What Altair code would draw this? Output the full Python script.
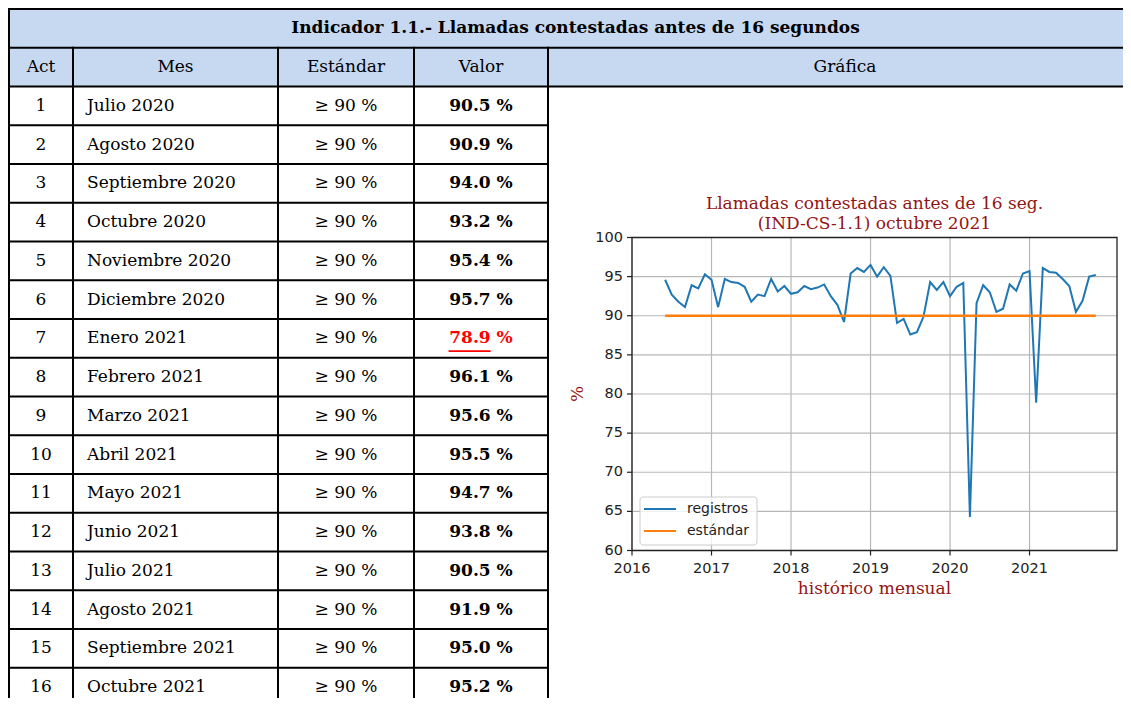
import altair as alt
import pandas as pd

# ------------------------------------------------------------------ data
TABLE_TITLE = "Indicador 1.1.- Llamadas contestadas antes de 16 segundos"
HEADERS = ["Act", "Mes", "Estándar", "Valor", "Gráfica"]
ACT = list(range(1, 17))
MESES = ["Julio 2020", "Agosto 2020", "Septiembre 2020", "Octubre 2020",
         "Noviembre 2020", "Diciembre 2020", "Enero 2021", "Febrero 2021",
         "Marzo 2021", "Abril 2021", "Mayo 2021", "Junio 2021",
         "Julio 2021", "Agosto 2021", "Septiembre 2021", "Octubre 2021"]
ESTANDAR = 90
VALORES = [90.5, 90.9, 94.0, 93.2, 95.4, 95.7, 78.9, 96.1,
           95.6, 95.5, 94.7, 93.8, 90.5, 91.9, 95.0, 95.2]

# monthly history shown in the plot, May 2016 - Jun 2020 (then VALORES follow)
HIST_START = (2016, 5)
HIST = [94.6, 92.7, 91.8, 91.1, 93.9, 93.5, 95.3, 94.6,
        91.1, 94.7, 94.3, 94.2, 93.7, 91.8, 92.7, 92.5, 94.7, 93.1, 93.8, 92.8,
        93.0, 93.8, 93.4, 93.6, 94.0, 92.5, 91.4, 89.2, 95.4, 96.1, 95.6, 96.5,
        95.0, 96.2, 95.1, 89.1, 89.6, 87.6, 87.9, 89.9, 94.3, 93.3, 94.3, 92.5,
        93.7, 94.2, 64.3, 91.6, 93.9, 93.0]

CHART_TITLE = ["Llamadas contestadas antes de 16 seg.", "(IND-CS-1.1) octubre 2021"]
X_TITLE = "histórico mensual"
Y_TITLE = "%"
SERIES = ["registros", "estándar"]
SERIES_COLORS = ["#1f77b4", "#ff7f0e"]
X_TICKS = [2016, 2017, 2018, 2019, 2020, 2021]
Y_TICKS = [60, 65, 70, 75, 80, 85, 90, 95, 100]
X_DOMAIN = [2016, 2022.1]
Y_DOMAIN = [60, 100]

# ------------------------------------------------------------------ layout / style
W, H = 1115, 690
COL_EDGES = [1, 65, 270, 406, 540, 1134]
ROW_TOP, ROW_H = 1, 38.75
PLOT_X = [624, 1109]
PLOT_Y = [542.5, 229.5]
SERIF = "DejaVu Serif"
SANS = "DejaVu Sans"
HEAD_BG = "#C6D9F1"
DARKRED = "#931414"
INK = "#222222"
UNDERLINE = (0.258, 0.572)
LEG_BOX = (632, 749, 489, 537)
LEG_ROWS = [501, 523]

xt = alt.Scale(domain=list(range(len(COL_EDGES))), range=COL_EDGES)
yt = alt.Scale(domain=[-2, 16], range=[ROW_TOP, ROW_TOP + 18 * ROW_H])


def tx(field):
    return alt.X(field, type="quantitative", scale=xt, axis=None)


def ty(field):
    return alt.Y(field, type="quantitative", scale=yt, axis=None)


# ---- table
hdr_bg = alt.Chart(pd.DataFrame({"c0": [0], "c1": [len(HEADERS)], "r0": [-2], "r1": [0]})).mark_rect(
    color=HEAD_BG).encode(x=tx("c0"), x2="c1:Q", y=ty("r0"), y2="r1:Q")

hrows = []
for r in range(-2, len(ACT) + 1):
    hrows.append({"r": r, "c0": 0, "c1": len(HEADERS) if r <= 0 else len(HEADERS) - 1})
hlines = alt.Chart(pd.DataFrame(hrows)).mark_rule(color="black", strokeWidth=2, strokeCap="square").encode(
    x=tx("c0"), x2="c1:Q", y=ty("r"))

vrows = []
for c in range(len(HEADERS) + 1):
    vrows.append({"c": c, "r0": -2 if c in (0, len(HEADERS)) else -1, "r1": len(ACT)})
vlines = alt.Chart(pd.DataFrame(vrows)).mark_rule(color="black", strokeWidth=2, strokeCap="square").encode(
    x=tx("c"), y=ty("r0"), y2="r1:Q")

title_txt = alt.Chart(pd.DataFrame({"t": [TABLE_TITLE], "r": [-1.5]})).mark_text(
    font=SERIF, fontSize=17, fontWeight="bold", color="black").encode(
    x=alt.value((COL_EDGES[0] + COL_EDGES[-1]) / 2), y=ty("r"), text="t:N")

head_df = pd.DataFrame({"t": HEADERS, "c": [i + 0.5 for i in range(len(HEADERS))], "r": [-0.5] * len(HEADERS)})
head_txt = alt.Chart(head_df).mark_text(font=SERIF, fontSize=17, color="black").encode(
    x=tx("c"), y=ty("r"), text="t:N")

rows_df = pd.DataFrame({
    "act": [str(a) for a in ACT],
    "mes": MESES,
    "est": [f"≥ {ESTANDAR} %" for _ in ACT],
    "val": [f"{v:.1f} %" for v in VALORES],
    "bad": [v < ESTANDAR for v in VALORES],
    "r": [i + 0.5 for i in range(len(ACT))],
    "c0": [0.5] * len(ACT), "c1": [1] * len(ACT), "c2": [2.5] * len(ACT), "c3": [3.5] * len(ACT),
})
act_txt = alt.Chart(rows_df).mark_text(font=SERIF, fontSize=17, color="black").encode(
    x=tx("c0"), y=ty("r"), text="act:N")
mes_txt = alt.Chart(rows_df).mark_text(font=SERIF, fontSize=17, color="black", align="left", dx=14).encode(
    x=tx("c1"), y=ty("r"), text="mes:N")
est_txt = alt.Chart(rows_df).mark_text(font=SERIF, fontSize=17, color="black").encode(
    x=tx("c2"), y=ty("r"), text="est:N")
val_txt = alt.Chart(rows_df).mark_text(font=SERIF, fontSize=17, fontWeight="bold").encode(
    x=tx("c3"), y=ty("r"), text="val:N",
    color=alt.condition("datum.bad", alt.value("#FF0000"), alt.value("black")))

ul_df = pd.DataFrame([{"u0": 3 + UNDERLINE[0], "u1": 3 + UNDERLINE[1], "r": i + 0.83}
                      for i, v in enumerate(VALORES) if v < ESTANDAR])
underline = alt.Chart(ul_df).mark_rule(color="#FF0000", strokeWidth=1.6).encode(
    x=tx("u0"), x2="u1:Q", y=ty("r"))

table = alt.layer(hdr_bg, hlines, vlines, title_txt, head_txt, act_txt, mes_txt, est_txt, val_txt, underline)

# ---- plot
serie = HIST + VALORES
xs = []
for i in range(len(serie)):
    k = HIST_START[1] - 1 + i
    xs.append(HIST_START[0] + k // 12 + (k % 12 + 1) / 12)

reg_df = pd.DataFrame({"x": xs, "v": serie, "s": SERIES[0]})
std_df = pd.DataFrame({"x": xs, "v": [ESTANDAR] * len(xs), "s": SERIES[1]})

xc = alt.Scale(domain=X_DOMAIN, range=PLOT_X)
yc = alt.Scale(domain=Y_DOMAIN, range=PLOT_Y)
color = alt.Color("s:N", scale=alt.Scale(domain=SERIES, range=SERIES_COLORS), legend=None)


def cx(field):
    return alt.X(field, type="quantitative", scale=xc, axis=None)


def cy(field):
    return alt.Y(field, type="quantitative", scale=yc, axis=None)


xt_df = pd.DataFrame({"x": X_TICKS, "lab": [str(t) for t in X_TICKS], "y0": Y_DOMAIN[0], "y1": Y_DOMAIN[1]})
yt_df = pd.DataFrame({"y": Y_TICKS, "lab": [str(t) for t in Y_TICKS], "x0": X_DOMAIN[0], "x1": X_DOMAIN[1]})

vgrid = alt.Chart(xt_df).mark_rule(color="#b8b8b8", strokeWidth=1.2).encode(
    x=cx("x"), y=cy("y0"), y2="y1:Q")
hgrid = alt.Chart(yt_df).mark_rule(color="#b8b8b8", strokeWidth=1.2).encode(
    y=cy("y"), x=cx("x0"), x2="x1:Q")

line_reg = alt.Chart(reg_df).mark_line(strokeWidth=2).encode(x=cx("x"), y=cy("v"), color=color)
line_std = alt.Chart(std_df).mark_line(strokeWidth=2.6).encode(x=cx("x"), y=cy("v"), color=color)

spine = alt.Chart(pd.DataFrame({"x0": [X_DOMAIN[0]], "x1": [X_DOMAIN[1]],
                                "y0": [Y_DOMAIN[0]], "y1": [Y_DOMAIN[1]]})).mark_rect(
    fillOpacity=0, stroke=INK, strokeWidth=1.3).encode(x=cx("x0"), x2="x1:Q", y=cy("y0"), y2="y1:Q")

# axis ticks and labels
xticks = alt.Chart(xt_df).mark_rule(color=INK, strokeWidth=1.2).encode(
    x=cx("x"), y=alt.value(PLOT_Y[0]), y2=alt.value(PLOT_Y[0] + 5))
xlabels = alt.Chart(xt_df).mark_text(font=SANS, fontSize=14.5, color=INK, baseline="middle").encode(
    x=cx("x"), y=alt.value(PLOT_Y[0] + 18.5), text="lab:N")
yticks = alt.Chart(yt_df).mark_rule(color=INK, strokeWidth=1.2).encode(
    y=cy("y"), x=alt.value(PLOT_X[0] - 5), x2=alt.value(PLOT_X[0]))
ylabels = alt.Chart(yt_df).mark_text(font=SANS, fontSize=14.5, color=INK, align="right",
                                      baseline="middle").encode(
    y=cy("y"), x=alt.value(PLOT_X[0] - 9), text="lab:N")

mid_df = pd.DataFrame({"x": [sum(X_DOMAIN) / 2], "y": [sum(Y_DOMAIN) / 2]})
xtitle = alt.Chart(mid_df).mark_text(text=X_TITLE, font=SERIF, fontSize=17, color=DARKRED,
                                     baseline="middle").encode(x=cx("x"), y=alt.value(PLOT_Y[0] + 38.5))
ytitle = alt.Chart(mid_df).mark_text(text=Y_TITLE, font=SERIF, fontSize=17, color=DARKRED,
                                     baseline="middle", angle=270).encode(
    y=cy("y"), x=alt.value(PLOT_X[0] - 54))
ptitle = alt.Chart(mid_df).mark_text(
    text=CHART_TITLE, font=SERIF, fontSize=17, color=DARKRED, baseline="top", lineHeight=19.5).encode(
    x=cx("x"), y=alt.value(188))

plot = alt.layer(vgrid, hgrid, line_reg, line_std, spine, xticks, xlabels, yticks, ylabels,
                 xtitle, ytitle, ptitle)

# ---- legend (matplotlib-style box, lower left of the plot)
ly = alt.Scale(domain=[0, len(SERIES) - 1], range=LEG_ROWS)
leg_df = pd.DataFrame({"s": SERIES, "i": list(range(len(SERIES)))})
leg_box = alt.Chart(pd.DataFrame({"k": [0]})).mark_rect(
    fill="white", fillOpacity=0.8, stroke="#cccccc", strokeWidth=1, cornerRadius=3).encode(
    x=alt.value(LEG_BOX[0]), x2=alt.value(LEG_BOX[1]), y=alt.value(LEG_BOX[2]), y2=alt.value(LEG_BOX[3]))
leg_line = alt.Chart(leg_df).mark_rule(strokeWidth=2).encode(
    x=alt.value(LEG_BOX[0] + 4), x2=alt.value(LEG_BOX[0] + 36),
    y=alt.Y("i:Q", scale=ly, axis=None), color=color)
leg_txt = alt.Chart(leg_df).mark_text(font=SANS, fontSize=14, color=INK, align="left",
                                      baseline="middle").encode(
    x=alt.value(LEG_BOX[0] + 47), y=alt.Y("i:Q", scale=ly, axis=None), text="s:N")
legend = alt.layer(leg_box, leg_line, leg_txt)

chart = alt.layer(table, plot, legend).resolve_scale(x="independent", y="independent").properties(
    width=W, height=H, autosize=alt.AutoSizeParams(type="none"), padding=0,
    background="white").configure_view(stroke=None)

chart.save("out.html", embed_options={"renderer": "svg", "actions": False})
